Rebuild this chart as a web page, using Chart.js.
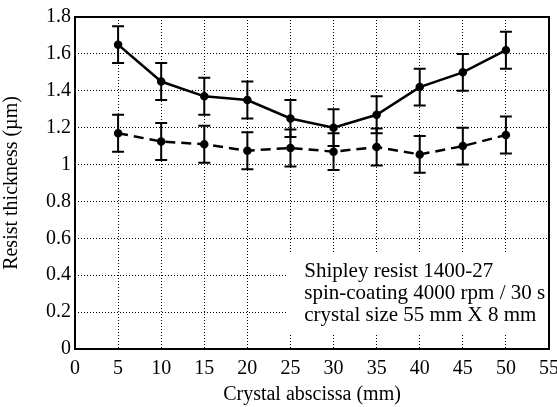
<!DOCTYPE html>
<html>
<head>
<meta charset="utf-8">
<script src="https://cdn.jsdelivr.net/npm/chart.js@4"></script>
<style>
  html, body { margin: 0; padding: 0; background: #fff; }
  #wrap { width: 557px; height: 407px; }
</style>
</head>
<body>
<div id="wrap"><canvas id="chart" width="557" height="407"></canvas></div>
<script>
// data
const positions = [5, 10, 15, 20, 25, 30, 35, 40, 45, 50];
const solidThickness = [1.65, 1.45, 1.37, 1.35, 1.25, 1.2, 1.27, 1.42, 1.5, 1.62];
const solidError = [0.1, 0.1, 0.1, 0.1, 0.1, 0.1, 0.1, 0.1, 0.1, 0.1];
const dashedThickness = [1.17, 1.125, 1.11, 1.075, 1.09, 1.07, 1.095, 1.055, 1.1, 1.16];
const dashedError = [0.1, 0.1, 0.1, 0.1, 0.1, 0.1, 0.1, 0.1, 0.1, 0.1];
const noteLines = ["Shipley resist 1400-27", "spin-coating 4000 rpm / 30 s", "crystal size 55 mm X 8 mm"];

const FONT = "'Liberation Serif', 'Times New Roman', serif";

const toPoints = (ys) => positions.map((x, i) => ({ x: x, y: ys[i] }));

const errorBars = {
  id: "errorBars",
  afterDatasetsDraw(chart) {
    const ctx = chart.ctx;
    const xs = chart.scales.x, ys = chart.scales.y;
    chart.data.datasets.forEach((ds) => {
      const errs = ds.errors || [];
      ctx.save();
      ctx.strokeStyle = "#000";
      ctx.lineWidth = 2;
      ds.data.forEach((p, i) => {
        const x = xs.getPixelForValue(p.x);
        const top = ys.getPixelForValue(p.y + errs[i]);
        const bot = ys.getPixelForValue(p.y - errs[i]);
        ctx.beginPath();
        ctx.moveTo(x, top); ctx.lineTo(x, bot);
        ctx.moveTo(x - 6, top); ctx.lineTo(x + 6, top);
        ctx.moveTo(x - 6, bot); ctx.lineTo(x + 6, bot);
        ctx.stroke();
      });
      ctx.restore();
    });
  }
};

const frameAndNote = {
  id: "frameAndNote",
  beforeDatasetsDraw(chart) {
    const ctx = chart.ctx;
    const a = chart.chartArea;
    const xs = chart.scales.x, ys = chart.scales.y;
    ctx.save();
    // white box behind the note
    const left = xs.getPixelForValue(24.7);
    const top = ys.getPixelForValue(0.52);
    ctx.fillStyle = "#fff";
    ctx.fillRect(left, top, a.right - left, ys.getPixelForValue(0.085) - top);
    ctx.fillStyle = "#000";
    ctx.font = "21px " + FONT;
    ctx.textBaseline = "middle";
    noteLines.forEach((t, i) => {
      ctx.fillText(t, xs.getPixelForValue(26.6), ys.getPixelForValue(0.42) + i * 22);
    });
    // frame
    ctx.strokeStyle = "#000";
    ctx.lineWidth = 2;
    ctx.strokeRect(a.left, a.top, a.right - a.left, a.bottom - a.top);
    ctx.restore();
  }
};

new Chart(document.getElementById("chart").getContext("2d"), {
  type: "line",
  data: {
    datasets: [
      {
        label: "solid",
        data: toPoints(solidThickness),
        errors: solidError,
        borderColor: "#000",
        backgroundColor: "#000",
        borderWidth: 2.5,
        pointRadius: 3,
        tension: 0,
        fill: false,
      },
      {
        label: "dashed",
        data: toPoints(dashedThickness),
        errors: dashedError,
        borderColor: "#000",
        backgroundColor: "#000",
        borderWidth: 2.5,
        borderDash: [10, 6],
        pointRadius: 3,
        tension: 0,
        fill: false,
      },
    ],
  },
  options: {
    responsive: false,
    animation: false,
    layout: { padding: { top: 17, right: 8, left: 0, bottom: 0 } },
    scales: {
      x: {
        type: "linear",
        min: 0,
        max: 55,
        border: { display: false, dash: [1, 2] },
        grid: { color: "#000", lineWidth: 1, drawTicks: false },
        ticks: {
          stepSize: 5,
          color: "#000",
          padding: 8,
          maxRotation: 0,
          font: { family: FONT, size: 20 },
        },
        title: {
          display: true,
          text: "Crystal abscissa (mm)",
          color: "#000",
          padding: { top: 2, bottom: 0 },
          font: { family: FONT, size: 20 },
        },
        afterFit(scale) {
          scale.height = 58;
          scale.paddingLeft = 0;
          scale.paddingRight = 0;
        },
      },
      y: {
        min: 0,
        max: 1.8,
        border: { display: false, dash: [1, 2] },
        grid: { color: "#000", lineWidth: 1, drawTicks: false },
        ticks: {
          stepSize: 0.2,
          color: "#000",
          padding: 4,
          font: { family: FONT, size: 20 },
          callback: (v) => String(+v.toFixed(1)),
        },
        title: {
          display: true,
          text: "Resist thickness (µm)",
          color: "#000",
          padding: { top: 0, bottom: 2 },
          font: { family: FONT, size: 20 },
        },
        afterFit(scale) {
          scale.width = 75;
          scale.paddingTop = 0;
          scale.paddingBottom = 0;
        },
      },
    },
    plugins: {
      legend: { display: false },
      tooltip: { enabled: false },
    },
  },
  plugins: [frameAndNote, errorBars],
});
</script>
</body>
</html>
